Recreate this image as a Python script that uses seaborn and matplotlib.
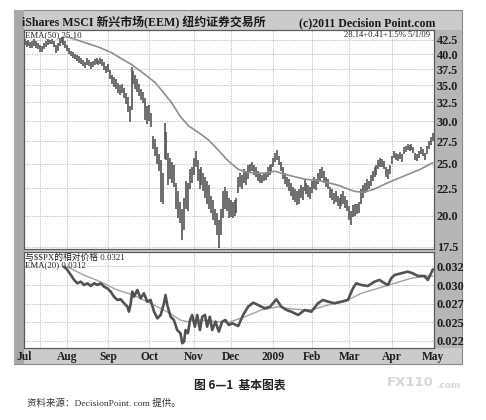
import matplotlib
matplotlib.use("Agg")
import matplotlib.pyplot as plt
from matplotlib.patches import Rectangle
from matplotlib.ticker import NullLocator
import seaborn as sns
import pandas as pd

# ---------------- data ----------------
month_labels = ["Jul", "Aug", "Sep", "Oct", "Nov", "Dec", "2009", "Feb", "Mar", "Apr", "May"]
month_days = [0, 22, 43, 64, 87, 106, 128, 148, 167, 189, 210]
extra_grid_days = [8]

highs = [
    42.6, 42.4, 42.5, 42.2, 42.3, 42.6, 42.3, 41.9, 41.6, 41.5, 41.9, 42.4, 42.6, 42.5, 42.7, 42.3, 41.6, 42.0, 42.9, 43.0, 42.8, 42.4,
    41.6, 41.0, 40.6, 40.4, 40.0, 39.8, 39.6, 39.4, 39.0, 38.7, 39.3, 39.0, 38.6, 38.9, 39.1, 39.3, 39.0, 39.4, 39.2, 38.6, 38.0,
    38.4, 37.4, 36.6, 36.2, 36.0, 35.4, 35.0, 35.2, 34.6, 33.8, 33.3, 32.0, 37.8, 37.2, 36.6, 36.0, 35.2, 34.4, 34.0, 33.2, 32.0,
    32.2, 31.0, 28.2, 27.8, 26.8, 26.0, 25.4, 24.0, 29.8, 28.6, 26.2, 25.6, 25.2, 24.8, 23.0, 22.2, 21.2, 20.6, 21.6, 23.2, 23.0, 24.4, 24.6,
    25.6, 26.4, 25.4, 24.4, 24.6, 24.0, 23.6, 23.2, 22.8, 21.8, 21.4, 20.6, 20.2, 19.6, 20.6, 22.2, 22.6, 22.2, 21.6,
    21.4, 21.2, 21.4, 21.6, 23.6, 24.0, 23.8, 24.4, 24.2, 24.8, 25.0, 25.2, 24.9, 24.6, 24.2, 24.0, 23.8, 24.0, 24.1, 24.6, 24.8, 25.0,
    25.6, 26.2, 26.5, 25.8, 25.2, 24.6, 24.0, 23.6, 23.4, 23.0, 22.6, 22.4, 22.2, 22.4, 22.8, 22.6, 23.4, 23.0, 22.8, 22.6,
    23.2, 23.6, 23.4, 24.0, 24.4, 24.6, 24.2, 23.6, 23.4, 22.6, 22.4, 22.0, 22.2, 21.8, 21.6, 21.9, 22.2, 21.8, 21.4,
    20.8, 20.4, 20.9, 21.0, 21.0, 21.2, 22.4, 22.8, 23.0, 23.4, 23.2, 23.8, 24.2, 24.6, 24.9, 25.4, 25.6, 25.5, 25.3, 24.6, 24.4, 24.9,
    25.8, 26.4, 26.2, 26.0, 26.3, 26.0, 26.8, 27.0, 27.2, 27.1, 27.2, 26.9, 26.2, 26.0, 26.4, 26.8, 26.6, 26.2, 27.0, 27.6, 28.0, 28.5,
]
lows = [
    41.6, 41.2, 41.5, 41.0, 41.1, 41.4, 41.0, 40.8, 40.4, 40.3, 40.9, 41.3, 41.6, 41.7, 41.8, 41.2, 40.2, 40.6, 41.5, 42.0, 41.6, 41.0,
    40.6, 40.0, 39.7, 39.4, 39.1, 38.8, 38.5, 38.3, 38.0, 37.7, 38.2, 38.0, 37.6, 37.9, 38.2, 38.4, 38.1, 38.3, 38.0, 37.4, 36.9,
    37.0, 36.0, 35.2, 34.8, 34.4, 33.9, 33.6, 33.9, 33.2, 32.3, 31.2, 29.9, 31.5, 35.2, 34.4, 34.0, 33.4, 32.8, 32.4, 30.2, 29.6,
    30.0, 29.2, 26.6, 25.8, 25.0, 24.2, 21.2, 21.0, 25.5, 25.4, 22.8, 23.4, 23.0, 22.6, 20.6, 19.8, 19.4, 18.0, 18.8, 20.6, 20.4, 22.4, 23.0,
    23.8, 24.6, 23.2, 22.4, 22.8, 22.2, 21.6, 21.0, 20.6, 20.2, 19.6, 19.2, 18.4, 17.4, 18.4, 19.8, 20.6, 20.4, 19.8,
    19.9, 19.8, 20.0, 20.2, 22.0, 22.6, 22.4, 23.0, 22.8, 23.4, 24.0, 24.2, 23.8, 23.6, 23.2, 23.0, 23.0, 23.2, 23.3, 23.6, 23.8, 24.2,
    24.6, 25.2, 25.4, 24.8, 24.2, 23.4, 22.9, 22.6, 22.2, 21.8, 21.4, 21.2, 20.9, 21.0, 21.6, 21.4, 22.2, 21.9, 21.7, 21.5,
    22.0, 22.4, 22.3, 22.9, 23.2, 23.5, 23.0, 22.6, 22.4, 21.6, 21.4, 21.0, 21.2, 20.8, 20.6, 20.8, 21.0, 20.7, 20.4,
    19.6, 19.2, 19.9, 20.0, 20.1, 20.2, 21.0, 21.6, 22.0, 22.2, 22.4, 22.7, 23.2, 23.6, 23.8, 24.4, 24.6, 24.6, 24.4, 23.6, 23.4, 23.9,
    25.0, 25.6, 25.4, 25.3, 25.5, 25.2, 26.0, 26.3, 26.5, 26.4, 26.5, 26.2, 25.4, 25.3, 25.6, 26.0, 25.8, 25.4, 26.0, 26.6, 27.1, 27.6,
]
days = list(range(len(highs)))

ema50_days = [21, 27, 33, 39, 45, 48.4, 55.3, 62.1, 67.2, 71.5, 75.8, 80.1, 84.3, 89.3, 94.5, 99.6, 104.7,
              109.9, 114.1, 118.4, 123.6, 128.7, 135.4, 143.9, 152.5, 161.0, 169.6, 174.5, 179.7, 186.5,
              195.1, 203.6, 210]
ema50_vals = [43.2, 42.5, 41.8, 41.1, 40.2, 39.5, 38.2, 36.6, 35.4, 33.9, 32.4, 30.6, 29.4, 28.6, 27.7, 26.5, 25.3,
              24.4, 24.1, 24.0, 24.0, 24.2, 23.8, 23.4, 23.2, 22.8, 22.2, 22.1, 22.4, 23.0,
              23.7, 24.4, 25.1]

rs_days = [20.4, 22.0, 23.8, 25.5, 27.2, 28.9, 30.6, 32.3, 34.0, 35.8, 37.5, 39.2, 40.9, 42.6, 44.3, 46.0, 47.7,
           49.4, 51.2, 52.9, 53.7, 54.6, 55.4, 56.3, 58.0, 59.7, 61.4, 63.1, 64.8, 66.6, 68.3, 70.0, 71.7,
           72.5, 73.4, 75.1, 76.8, 78.5, 80.2, 81.1, 82.0, 82.8, 84.0, 85.1, 86.2, 87.6, 88.8, 90.2, 91.4,
           92.8, 93.9, 95.3, 96.5, 98.2, 99.9, 101.6, 103.3, 105.1, 106.8, 109.9, 112.4, 115.0, 117.6,
           120.1, 123.6, 126.3, 129.5, 132.1, 134.7, 137.2, 140.7, 144.1, 147.5, 150.9, 153.5, 156.1,
           159.5, 162.9, 166.3, 168.9, 170.6, 173.2, 176.6, 180.0, 182.6, 185.2, 186.9, 188.6, 190.3,
           193.7, 197.1, 199.7, 202.3, 205.7, 207.4, 209.1, 210.0]
rs_vals = [0.03247, 0.03203, 0.03135, 0.03068, 0.03023, 0.03045, 0.03000, 0.03023, 0.02987, 0.03023, 0.03000,
           0.03023, 0.02977, 0.02955, 0.02910, 0.02842, 0.02798, 0.02807, 0.02753, 0.02707, 0.02640, 0.02753,
           0.02910, 0.02842, 0.02933, 0.02820, 0.02888, 0.02775, 0.02798, 0.02640, 0.02550, 0.02595, 0.02753,
           0.02865, 0.02730, 0.02572, 0.02527, 0.02392, 0.02348, 0.02213, 0.02234, 0.02392, 0.02348, 0.02527,
           0.02595, 0.02437, 0.02595, 0.02392, 0.02572, 0.02595, 0.02437, 0.02572, 0.02392, 0.02505, 0.02370,
           0.02505, 0.02527, 0.02460, 0.02483, 0.02446, 0.02595, 0.02707, 0.02761, 0.02730, 0.02685, 0.02707,
           0.02807, 0.02707, 0.02662, 0.02640, 0.02595, 0.02662, 0.02640, 0.02753, 0.02798, 0.02775, 0.02753,
           0.02775, 0.02798, 0.02955, 0.03023, 0.03000, 0.02987, 0.03045, 0.03068, 0.03023, 0.03000, 0.03090,
           0.03135, 0.03158, 0.03180, 0.03158, 0.03122, 0.03122, 0.03068, 0.03158, 0.03210]

ema20_days = [21.9, 30.3, 39.0, 47.6, 56.0, 64.7, 73.3, 80.1, 83.5, 90.3, 98.9, 104.7, 113.3, 121.8, 130.4,
              139.0, 147.5, 156.1, 164.6, 173.2, 181.7, 190.3, 198.8, 207.4, 210.0]
ema20_vals = [0.03247, 0.03135, 0.03045, 0.02933, 0.02865, 0.02753, 0.02640, 0.02527, 0.02505, 0.02527,
              0.02505, 0.02491, 0.02572, 0.02662, 0.02707, 0.02672, 0.02662, 0.02730, 0.02775, 0.02888,
              0.02955, 0.03023, 0.03090, 0.03122, 0.03120]

price_ticks = [17.5, 20.0, 22.5, 25.0, 27.5, 30.0, 32.5, 35.0, 37.5, 40.0, 42.5]
rs_ticks = [0.0225, 0.025, 0.0275, 0.030, 0.0325]
rs_tick_labels = ["0.022", "0.025", "0.027", "0.030", "0.032"]

title_left = "iShares MSCI 新兴市场(EEM) 纽约证券交易所"
title_right = "(c)2011 Decision Point.com"
ema50_label = "EMA(50) 25.10"
last_label = "28.14+0.41+1.5% 5/1/09"
rs_label = "与$SPX的相对价格 0.0321"
ema20_label = "EMA(20) 0.0312"
caption = "图 6—1  基本图表"
source = "资料来源：DecisionPoint. com 提供。"

# ---------------- style ----------------
sns.set_theme(style="white")
plt.rcParams["font.family"] = ["Liberation Serif", "Noto Sans CJK SC", "DejaVu Sans"]
MIX = ["Liberation Serif", "Noto Sans CJK SC", "DejaVu Sans"]
CJK = ["Noto Sans CJK SC", "DejaVu Sans"]

W, H = 486, 420
fig = plt.figure(figsize=(W / 100, H / 100), dpi=100)
fig.patch.set_facecolor("white")


def fx(x):
    return x / W


def fy(y):
    return 1 - y / H


# frame and bands
fig.add_artist(Rectangle((fx(14), fy(364)), (462 - 14) / W, (364 - 10) / H, transform=fig.transFigure,
                         facecolor="#cbcbcb", edgecolor="#8a8a8a", lw=0.8, zorder=-3))
fig.add_artist(Rectangle((fx(14), fy(364)), 10 / W, (364 - 10) / H, transform=fig.transFigure,
                         facecolor="#a8a8a8", edgecolor="none", zorder=-2))
fig.add_artist(Rectangle((fx(434), fy(348)), 28 / W, (348 - 30) / H, transform=fig.transFigure,
                         facecolor="#b6b6b6", edgecolor="none", zorder=-2))

ax1 = fig.add_axes([fx(24), fy(249), 410 / W, (249 - 30) / H])
ax2 = fig.add_axes([fx(24), fy(348), 410 / W, (348 - 252) / H], sharex=ax1)

grid_kw = dict(color="#b5b5b5", lw=0.6, linestyle=(0, (1.5, 1.5)), zorder=0)

# ---- upper: price bars ----
ax1.set_yscale("log")
ax1.vlines(days, lows, highs, color="#555555", lw=1.2, zorder=3)
sns.lineplot(x=ema50_days, y=ema50_vals, ax=ax1, color="#8e8e8e", linewidth=1.2, estimator=None,
             sort=False, zorder=4)
ax1.set_ylim(17.33, 44.36)
ax1.set_yticks(price_ticks)
ax1.set_yticklabels([f"{t:.1f}" for t in price_ticks])
ax1.yaxis.set_minor_locator(NullLocator())
for t in price_ticks:
    ax1.axhline(t, **grid_kw)

# ---- lower: relative strength ----
sns.lineplot(x=rs_days, y=rs_vals, ax=ax2, color="#525252", linewidth=1.9, estimator=None, sort=False, zorder=4)
sns.lineplot(x=ema20_days, y=ema20_vals, ax=ax2, color="#a2a2a2", linewidth=1.0, estimator=None, sort=False,
             zorder=3)
ax2.set_ylim(0.021495, 0.034455)
ax2.set_yticks(rs_ticks)
ax2.set_yticklabels(rs_tick_labels)
for t in rs_ticks:
    ax2.axhline(t, **grid_kw)

for ax in (ax1, ax2):
    ax.set_facecolor("white")
    for d in month_days[1:-1] + extra_grid_days:
        ax.axvline(d, **grid_kw)
    ax.yaxis.tick_right()
    ax.tick_params(axis="y", length=0, pad=2, labelsize=8.8, labelcolor="#1e1e1e")
    for lab in ax.get_yticklabels():
        lab.set_fontweight("bold")
    for s in ax.spines.values():
        s.set_color("#5a5a5a")
        s.set_linewidth(0.9)
    ax.set_xlabel("")
    ax.set_ylabel("")
    ax.grid(False)

ax1.set_xlim(-0.3, 210.6)
ax2.set_xticks(month_days)
ax2.set_xticklabels(month_labels)
ax2.tick_params(axis="x", length=0, pad=2.5, labelsize=8.3, labelcolor="#1e1e1e")
for lab in ax2.get_xticklabels():
    lab.set_fontweight("bold")
ax1.tick_params(axis="x", bottom=False, labelbottom=False)

# ---- texts ----
ax1.text(0.003, 0.995, ema50_label, transform=ax1.transAxes, ha="left", va="top", fontsize=6.3,
         color="#222", family=MIX)
ax1.text(0.99, 0.995, last_label, transform=ax1.transAxes, ha="right", va="top", fontsize=6.2,
         color="#222", family=MIX)
ax2.text(0.003, 0.99, rs_label, transform=ax2.transAxes, ha="left", va="top", fontsize=6.3,
         color="#222", family=MIX)
ax2.text(0.003, 0.90, ema20_label, transform=ax2.transAxes, ha="left", va="top", fontsize=6.3,
         color="#222", family=MIX)

fig.text(fx(22), fy(23), title_left, ha="left", va="center", fontsize=8.6, color="#1a1a1a",
         family=MIX, fontweight="bold")
fig.text(fx(435), fy(23), title_right, ha="right", va="center", fontsize=8.6, color="#1a1a1a",
         family=MIX, fontweight="bold")

fig.text(fx(240), fy(385), caption, ha="center", va="center", fontsize=8.5, color="#222",
         family=CJK, fontweight="bold")
fig.text(fx(27), fy(403), source, ha="left", va="center", fontsize=6.8, color="#333", family=MIX)
fig.text(fx(387), fy(383), "FX110", ha="left", va="center", fontsize=9.5, color="#d6d6d6",
         family=["DejaVu Sans"], fontweight="bold")
fig.text(fx(436), fy(385), ".com", ha="left", va="center", fontsize=6.5, color="#d6d6d6",
         family=["DejaVu Sans"], fontweight="bold")

fig.savefig("out.png", dpi=100, facecolor="white")
